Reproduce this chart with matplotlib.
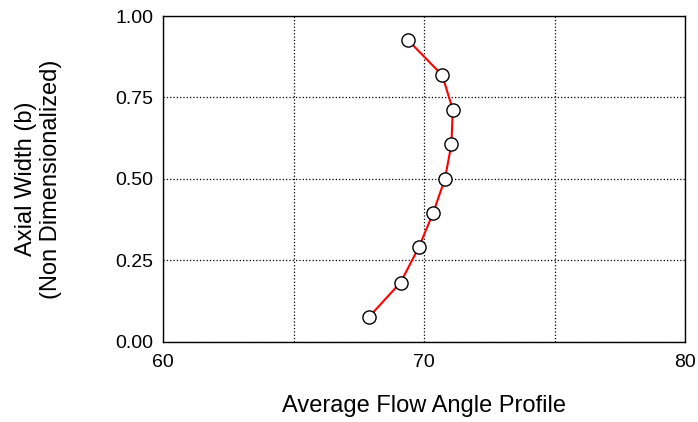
import matplotlib.pyplot as plt
from matplotlib.ticker import FixedLocator

plt.rcParams['font.family'] = ['Liberation Sans', 'DejaVu Sans']

flow_angle = [67.9, 69.1, 69.8, 70.35, 70.8, 71.05, 71.1, 70.7, 69.4]
axial_width = [0.077, 0.182, 0.29, 0.396, 0.50, 0.607, 0.713, 0.818, 0.925]

x_ticks = [60, 70, 80]
y_ticks = [0.00, 0.25, 0.50, 0.75, 1.00]

fig = plt.figure(figsize=(6.98, 4.22), dpi=100)
ax = fig.add_axes([0.2335, 0.19, 0.748, 0.772])

ax.plot(flow_angle, axial_width, color='red', lw=1.5, zorder=3)
ax.plot(flow_angle, axial_width, 'o', ms=9.5, mfc='white', mec='black', mew=1.0, zorder=4)

ax.set_xlim(60, 80)
ax.set_ylim(0, 1)
ax.xaxis.set_major_locator(FixedLocator(x_ticks))
ax.xaxis.set_minor_locator(FixedLocator([65, 75]))
ax.yaxis.set_major_locator(FixedLocator(y_ticks))
ax.set_yticklabels(['%.2f' % v for v in y_ticks])
ax.grid(True, which='both', color='black', linestyle=':', linewidth=0.9)
ax.tick_params(which='both', length=0, labelsize=14)
ax.tick_params(axis='x', pad=9)
ax.tick_params(axis='y', pad=7)
for s in ax.spines.values():
    s.set_linewidth(1.0)

ax.set_xlabel('Average Flow Angle Profile', fontsize=17, labelpad=17)
ax.set_ylabel('Axial Width (b)\n(Non Dimensionalized)', fontsize=17, labelpad=38)

fig.savefig('out.png', dpi=100)
